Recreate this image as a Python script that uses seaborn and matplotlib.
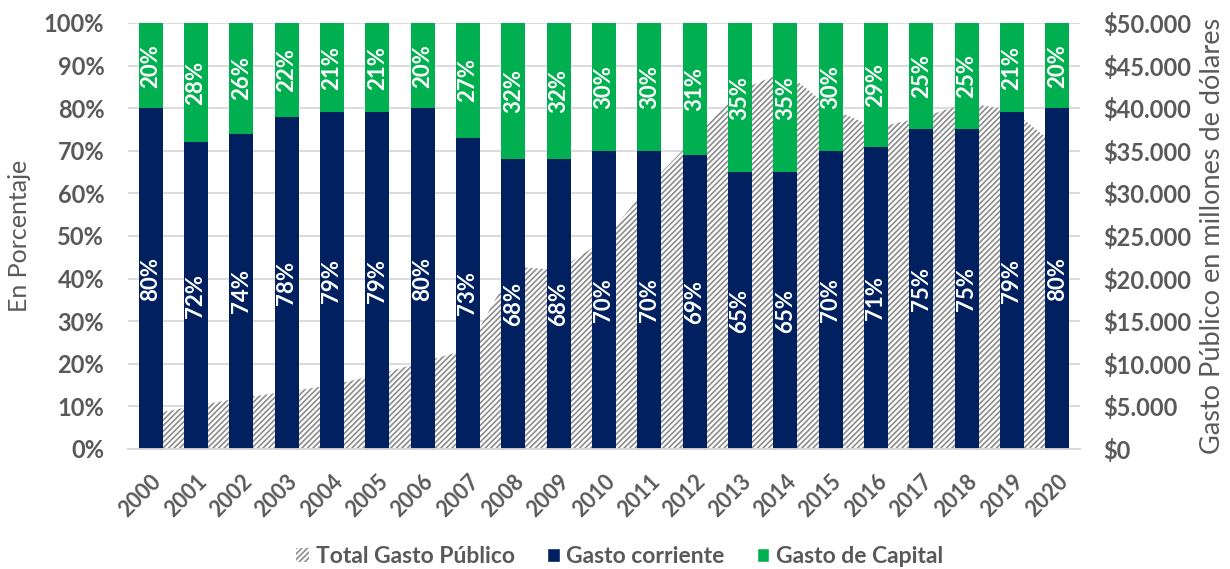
import matplotlib
matplotlib.use("Agg")
import matplotlib.pyplot as plt
import matplotlib.ticker as mticker
from matplotlib.patches import Patch
import seaborn as sns
import pandas as pd

# Data
years = [str(y) for y in range(2000, 2021)]
corriente = [80, 72, 74, 78, 79, 79, 80, 73, 68, 68, 70, 70, 69, 65, 65, 70, 71, 75, 75, 79, 80]
capital = [20, 28, 26, 22, 21, 21, 20, 27, 32, 32, 30, 30, 31, 35, 35, 30, 29, 25, 25, 21, 20]
total_gasto = [4100, 5050, 6000, 6700, 7500, 8700, 10200, 11700, 21400, 21000, 24500,
               31000, 36500, 42100, 44300, 40000, 37700, 38900, 40600, 39800, 35500]

navy = "#002060"
green = "#00B050"
grey_txt = "#595959"

sns.set_theme(style="white")
plt.rcParams["font.family"] = ["Lato", "DejaVu Sans"]
plt.rcParams["hatch.linewidth"] = 1.2
plt.rcParams["hatch.color"] = "#8c8c8c"

df = pd.DataFrame({"year": years, "corriente": corriente, "capital": capital})
df["tope"] = df["corriente"] + df["capital"]

fig = plt.figure(figsize=(12.3, 5.69), dpi=100)
ax = fig.add_axes([0.104, 0.211, 0.774, 0.7486])
ax2 = ax.twinx()

# area on secondary axis, behind the bars
xs = list(range(len(years)))
ax2.fill_between(xs, 0, total_gasto, facecolor="white", edgecolor="#8c8c8c",
                 hatch="//////", linewidth=0, zorder=2)
ax2.set_ylim(0, 50000)
ax2.set_yticks(range(0, 50001, 5000))
ax2.yaxis.set_major_formatter(mticker.FuncFormatter(lambda v, p: "${:,.0f}".format(v).replace(",", ".")))
ax2.grid(axis="y", color="#d9d9d9", linewidth=1.3, zorder=0)
ax2.set_axisbelow(True)

ax.set_zorder(ax2.get_zorder() + 1)
ax.patch.set_visible(False)

sns.barplot(data=df, x="year", y="tope", color=green, width=0.53, saturation=1,
            ax=ax, edgecolor="none")
sns.barplot(data=df, x="year", y="corriente", color=navy, width=0.53, saturation=1,
            ax=ax, edgecolor="none")

for i in range(len(years)):
    ax.text(i, corriente[i] / 2, f"{corriente[i]}%", rotation=90, ha="center", va="center",
            color="white", fontsize=16, fontweight="bold")
    ax.text(i, corriente[i] + capital[i] / 2, f"{capital[i]}%", rotation=90, ha="center",
            va="center", color="white", fontsize=16, fontweight="bold")

ax.set_xlim(-0.5, len(years) - 0.5)
ax.set_ylim(0, 100)
ax.set_yticks(range(0, 101, 10))
ax.yaxis.set_major_formatter(mticker.FuncFormatter(lambda v, p: f"{v:.0f}%"))
ax.set_xlabel("")
ax.set_ylabel("En Porcentaje", fontsize=18, color=grey_txt, labelpad=9)
ax2.set_ylabel("Gasto Público en millones de dólares", fontsize=19.5, color=grey_txt, labelpad=6)

for a in (ax, ax2):
    for s in ["top", "left", "right"]:
        a.spines[s].set_visible(False)
    a.spines["bottom"].set_color("#d9d9d9")
    a.spines["bottom"].set_linewidth(1.3)
    a.tick_params(axis="y", length=0, pad=17, labelsize=17, labelcolor=grey_txt)
    for lbl in a.get_yticklabels():
        lbl.set_fontweight("bold")

ax.tick_params(axis="x", length=0, pad=16, labelsize=15.5, labelcolor=grey_txt)
plt.setp(ax.get_xticklabels(), rotation=45, ha="right", rotation_mode="anchor", fontweight="bold")

handles = [
    Patch(facecolor="white", edgecolor="#8c8c8c", hatch="//////", linewidth=0, label="Total Gasto Público"),
    Patch(facecolor=navy, label="Gasto corriente"),
    Patch(facecolor=green, label="Gasto de Capital"),
]
leg = fig.legend(handles=handles, loc="center", bbox_to_anchor=(0.504, 0.022), ncol=3,
                 frameon=False, handlelength=0.55, handleheight=0.6, handletextpad=0.3,
                 columnspacing=1.4, prop={"weight": "bold", "size": 16.5})
for t in leg.get_texts():
    t.set_color(grey_txt)

fig.savefig("out.png", dpi=100)
